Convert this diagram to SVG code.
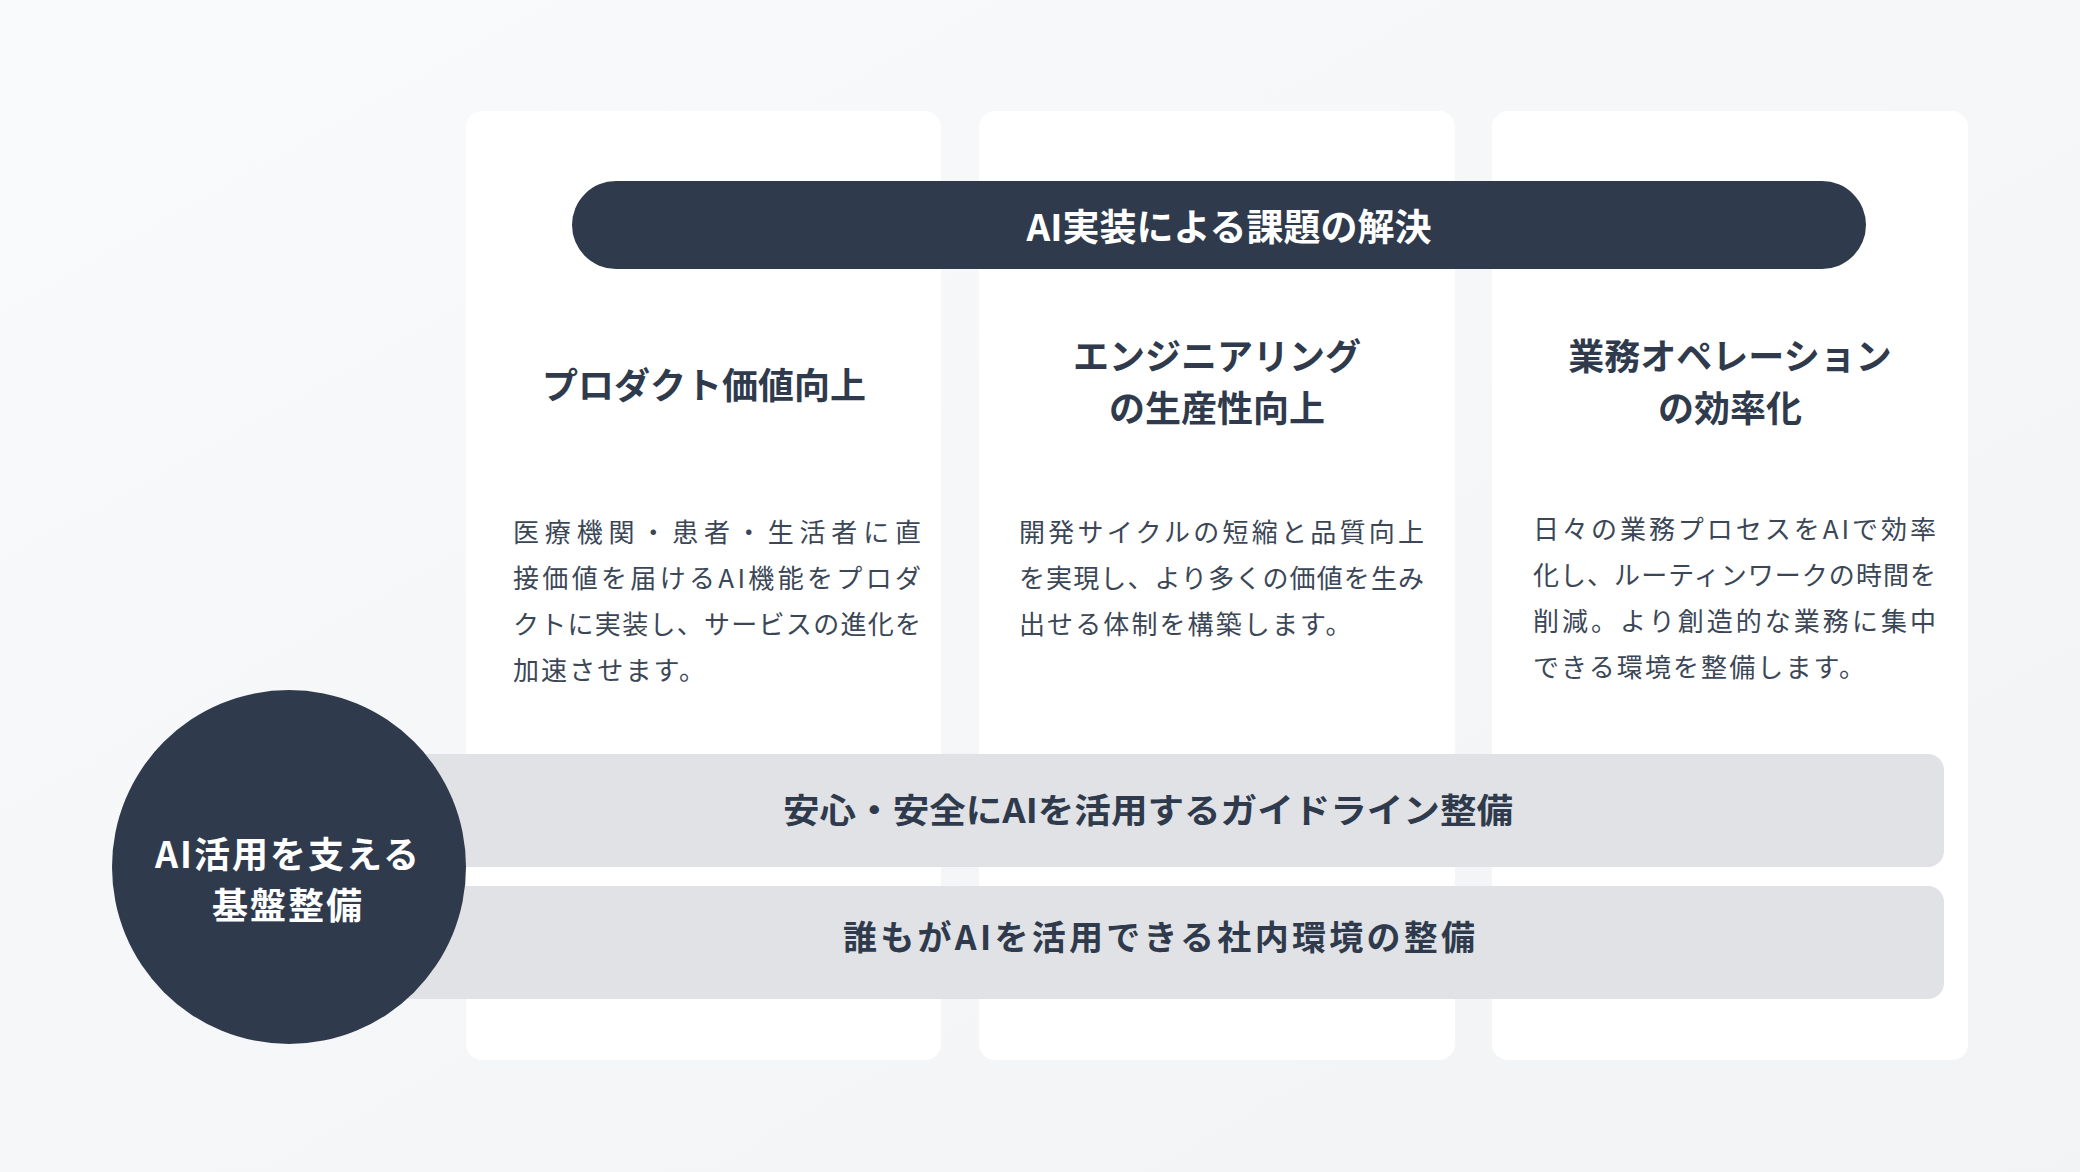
<svg xmlns="http://www.w3.org/2000/svg" width="2080" height="1172" viewBox="0 0 2080 1172">
<defs>
<linearGradient id="bg" x1="0" y1="0" x2="1" y2="1">
<stop offset="0" stop-color="#f9fafb"/>
<stop offset="1" stop-color="#f2f3f5"/>
</linearGradient>
<style>
.t{font-family:"Noto Sans CJK JP","Noto Sans",sans-serif;dominant-baseline:central}
.card{fill:#ffffff}
.dark{fill:#2f3b4d}
.bar{fill:#e0e2e6}
.h{font-size:36px;font-weight:700;fill:#2f3b4c;text-anchor:middle}
.w{fill:#ffffff;font-weight:700;text-anchor:middle}
.b{font-size:26px;font-weight:400;fill:#3b4757}
.bl{letter-spacing:2.1px}
.bt{font-size:34px;font-weight:700;fill:#2f3b4c;text-anchor:middle}
</style>
</defs>
<rect width="2080" height="1172" fill="url(#bg)"/>
<g id="card-product">
<rect class="card" x="466" y="111" width="475" height="949" rx="16"/>
<text class="t h" x="704" y="382.5">プロダクト価値向上</text>
<text class="t b" x="513" y="530.5" textLength="408" lengthAdjust="spacing">医療機関・患者・生活者に直</text>
<text class="t b" x="513" y="576.5" textLength="408" lengthAdjust="spacing">接価値を届けるAI機能をプロダ</text>
<text class="t b" x="513" y="622.5" textLength="408" lengthAdjust="spacing">クトに実装し、サービスの進化を</text>
<text class="t b bl" x="513" y="668.5">加速させます。</text>
</g>
<g id="card-engineering">
<rect class="card" x="979" y="111" width="476" height="949" rx="16"/>
<text class="t h" x="1217" y="353.5">エンジニアリング</text>
<text class="t h" x="1217" y="405.5">の生産性向上</text>
<text class="t b" x="1019" y="530.5" textLength="405" lengthAdjust="spacing">開発サイクルの短縮と品質向上</text>
<text class="t b" x="1019" y="576.5" textLength="405" lengthAdjust="spacing">を実現し、より多くの価値を生み</text>
<text class="t b bl" x="1019" y="622.5">出せる体制を構築します。</text>
</g>
<g id="card-operation">
<rect class="card" x="1492" y="111" width="476" height="949" rx="16"/>
<text class="t h" x="1730" y="353.5">業務オペレーション</text>
<text class="t h" x="1730" y="405.5">の効率化</text>
<text class="t b" x="1533" y="527" textLength="403" lengthAdjust="spacing">日々の業務プロセスをAIで効率</text>
<text class="t b" x="1533" y="573" textLength="403" lengthAdjust="spacing">化し、ルーティンワークの時間を</text>
<text class="t b" x="1533" y="619" textLength="403" lengthAdjust="spacing">削減。より創造的な業務に集中</text>
<text class="t b bl" x="1533" y="665.5">できる環境を整備します。</text>
</g>
<g id="header-pill">
<rect class="dark" x="572" y="181" width="1294" height="88" rx="44"/>
<text class="t w" x="1229" y="225" font-size="37">AI実装による課題の解決</text>
</g>
<g id="bar-guideline">
<rect class="bar" x="300" y="754" width="1644" height="113" rx="16"/>
<text class="t bt" x="1148" y="808.5" textLength="730" lengthAdjust="spacingAndGlyphs">安心・安全にAIを活用するガイドライン整備</text>
</g>
<g id="bar-environment">
<rect class="bar" x="300" y="886" width="1644" height="113" rx="16"/>
<text class="t bt" x="1159" y="935.5" textLength="632" lengthAdjust="spacing">誰もがAIを活用できる社内環境の整備</text>
</g>
<g id="foundation-circle">
<circle class="dark" cx="289" cy="867" r="177"/>
<text class="t w" x="288" y="851.5" font-size="36" letter-spacing="2">AI活用を支える</text>
<text class="t w" x="288" y="902.5" font-size="36" letter-spacing="2">基盤整備</text>
</g>
<g id="connectors"/>
</svg>
